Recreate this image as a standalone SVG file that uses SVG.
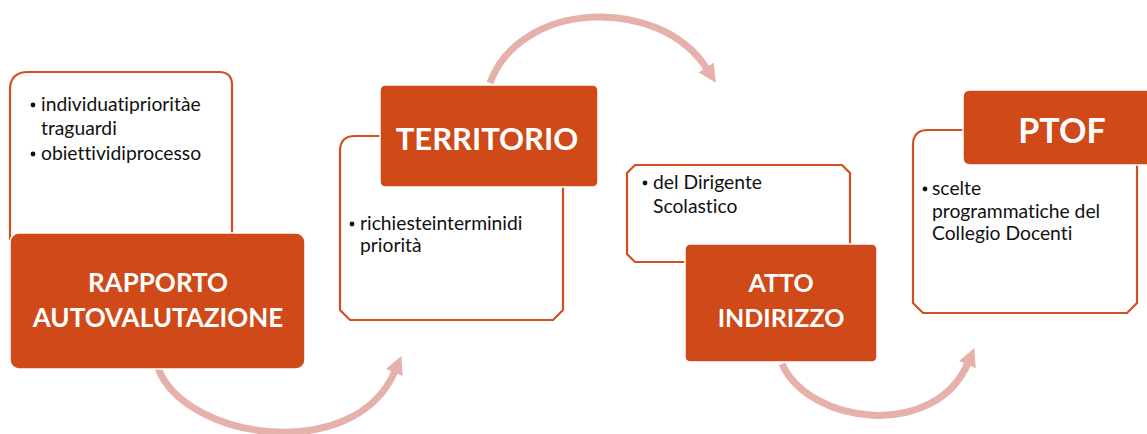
<svg xmlns="http://www.w3.org/2000/svg" width="1147" height="434" viewBox="0 0 1147 434">
<style>
.box{fill:#ffffff;stroke:#d24f1f;stroke-width:2.2}
.head{fill:#d04a19;stroke:#ffffff;stroke-width:1.5}
.ht{font-family:Lato,"Liberation Sans",sans-serif;font-weight:bold;fill:#ffffff;text-anchor:middle;font-variant-ligatures:none}
.bt{font-family:Lato,"Liberation Sans",sans-serif;font-size:19.3px;fill:#111111;font-variant-ligatures:none}
.arr{fill:none;stroke:#e6b1aa;stroke-width:7}
.dot{fill:#111111}
</style>
<defs>
<marker id="ah" viewBox="0 0 10 10" refX="1" refY="5" markerWidth="2.6" markerHeight="2.8" orient="auto">
<path d="M0,0 L10,5 L0,10 z" fill="#e6b1aa"/>
</marker>
</defs>
<g id="connectors">
<path class="arr" d="M158,368 C185,440 355,465 395,371" marker-end="url(#ah)"/>
<path class="arr" d="M490,83 C520,0 660,-5 707,69" marker-end="url(#ah)"/>
<path class="arr" d="M782,364 C810,425 935,440 968,363" marker-end="url(#ah)"/>
</g>
<g id="rapporto">
<path class="box" d="M10,240 V90 Q10,72 28,72 H219 Q232,72 232,85 V240"/>
<circle class="dot" cx="33" cy="105" r="2.4"/>
<text class="bt" x="41" y="111">individuatiprioritàe</text>
<text class="bt" x="41" y="135">traguardi</text>
<circle class="dot" cx="33" cy="154" r="2.4"/>
<text class="bt" x="41" y="160">obiettividiprocesso</text>
<rect class="head" x="10" y="233" width="295" height="136" rx="9"/>
<text class="ht" x="158" y="292" font-size="26">RAPPORTO</text>
<text class="ht" x="158" y="327" font-size="26">AUTOVALUTAZIONE</text>
</g>
<g id="territorio">
<path class="box" d="M340,151 Q340,136 355,136 H563 V310 L553,320 H350 L340,310 Z"/>
<circle class="dot" cx="352" cy="224" r="2.4"/>
<text class="bt" x="360" y="230">richiesteinterminidi</text>
<text class="bt" x="360" y="252">priorità</text>
<rect class="head" x="380" y="85" width="218" height="102" rx="5"/>
<text class="ht" x="487" y="150" font-size="31">TERRITORIO</text>
</g>
<g id="atto">
<path class="box" d="M635,165 H842 L850,173 V262 H635 L627,254 V173 Z"/>
<circle class="dot" cx="645" cy="183" r="2.4"/>
<text class="bt" x="653" y="189">del Dirigente</text>
<text class="bt" x="653" y="213">Scolastico</text>
<rect class="head" x="685" y="244" width="192" height="118" rx="5"/>
<text class="ht" x="781" y="292" font-size="25">ATTO</text>
<text class="ht" x="781" y="327" font-size="25">INDIRIZZO</text>
</g>
<g id="ptof">
<path class="box" d="M913,145 Q913,130 928,130 H1137 V303 L1127,313 H923 L913,303 Z"/>
<circle class="dot" cx="925" cy="189" r="2.4"/>
<text class="bt" x="932" y="195">scelte</text>
<text class="bt" x="932" y="218">programmatiche del</text>
<text class="bt" x="932" y="240">Collegio Docenti</text>
<path class="head" d="M970,90 H1150 V165 H970 Q963,165 963,158 V97 Q963,90 970,90 Z"/>
<text class="ht" x="1062" y="143" font-size="34">PTOF</text>
</g>
</svg>
